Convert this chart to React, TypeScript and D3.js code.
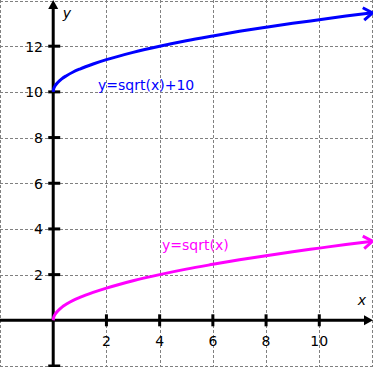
import React, { useEffect, useRef } from 'react';
import * as d3 from 'd3';

// points
const xs = [0, 0.02, 0.08, 0.18, 0.32, 0.5, 0.75, 1, 1.5, 2, 3, 4, 5, 6, 7, 8, 9, 10, 11, 12];
const sqrtY = [0, 0.14, 0.28, 0.42, 0.57, 0.71, 0.87, 1, 1.22, 1.41, 1.73, 2, 2.24, 2.45, 2.65, 2.83, 3, 3.16, 3.32, 3.46];
const sqrtPlus10Y = [10, 10.14, 10.28, 10.42, 10.57, 10.71, 10.87, 11, 11.22, 11.41, 11.73, 12, 12.24, 12.45, 12.65, 12.83, 13, 13.16, 13.32, 13.46];

const xGrid = [-2, 2, 4, 6, 8, 10, 12];
const yGrid = [-2, 2, 4, 6, 8, 10, 12, 14];
const xTickLabels = [2, 4, 6, 8, 10];
const yTickLabels = [2, 4, 6, 8, 10, 12];

const series = [
  { name: 'y=sqrt(x)+10', ys: sqrtPlus10Y, color: '#0000ff', labelX: 98, labelY: 90 },
  { name: 'y=sqrt(x)', ys: sqrtY, color: '#ff00ff', labelX: 162, labelY: 250 },
];

const App = () => {
  const svgRef = useRef<SVGSVGElement>(null);

  useEffect(() => {
    const width = 373;
    const height = 367;

    const x = d3.scaleLinear().domain([-2, 12]).range([0, 372.5]);
    const y = d3.scaleLinear().domain([-2, 14]).range([366, 0.5]);

    const svg = d3.select(svgRef.current)
      .attr('width', width)
      .attr('height', height)
      .attr('style', 'position:absolute;left:0;top:0;background:#fff;font-family:"DejaVu Sans", sans-serif;');
    svg.selectAll('*').remove();

    // dashed grid, every 2 units
    const grid = svg.append('g')
      .attr('stroke', '#808080')
      .attr('stroke-width', 1)
      .attr('stroke-dasharray', '3,2');
    xGrid.forEach(d => {
      const px = Math.min(Math.round(x(d)), width - 1) + 0.5;
      grid.append('line').attr('x1', px).attr('x2', px).attr('y1', 0).attr('y2', height);
    });
    yGrid.forEach(d => {
      const py = Math.min(Math.round(y(d)), height - 1) + 0.5;
      grid.append('line').attr('y1', py).attr('y2', py).attr('x1', 0).attr('x2', width);
    });

    // axes
    const x0 = x(0);
    const y0 = y(0);
    const axes = svg.append('g').attr('stroke', '#000').attr('stroke-width', 3);
    axes.append('line').attr('x1', 0).attr('x2', 366).attr('y1', y0).attr('y2', y0);
    axes.append('line').attr('x1', x0).attr('x2', x0).attr('y1', height).attr('y2', 7);
    svg.append('path')
      .attr('d', `M${373},${y0} L${364},${y0 - 5} L${364},${y0 + 5} Z`)
      .attr('fill', '#000');
    svg.append('path')
      .attr('d', `M${x0},0 L${x0 - 5},9 L${x0 + 5},9 Z`)
      .attr('fill', '#000');

    // tick marks
    xTickLabels.forEach(d => {
      axes.append('line').attr('x1', x(d)).attr('x2', x(d)).attr('y1', y0 - 6).attr('y2', y0 + 6);
    });
    [-2, ...yTickLabels].forEach(d => {
      axes.append('line').attr('y1', y(d)).attr('y2', y(d)).attr('x1', x0 - 5).attr('x2', x0 + 7);
    });

    // tick labels
    svg.append('g')
      .attr('font-size', 14)
      .attr('text-anchor', 'middle')
      .selectAll('text')
      .data(xTickLabels)
      .join('text')
      .attr('x', d => x(d))
      .attr('y', 346)
      .text(d => d);
    svg.append('g')
      .attr('font-size', 14)
      .attr('text-anchor', 'end')
      .selectAll('text')
      .data(yTickLabels)
      .join('text')
      .attr('x', 43)
      .attr('y', d => y(d) + 5.5)
      .text(d => d);

    // axis names
    svg.append('text').attr('x', 362).attr('y', 305).attr('font-size', 14)
      .attr('font-style', 'italic').attr('text-anchor', 'middle').text('x');
    svg.append('text').attr('x', 67).attr('y', 18).attr('font-size', 14)
      .attr('font-style', 'italic').attr('text-anchor', 'middle').text('y');

    // curves with open arrow heads
    const line = d3.line<number>()
      .x((_, i) => x(xs[i]))
      .y(d => y(d))
      .curve(d3.curveMonotoneX);

    series.forEach(s => {
      svg.append('path')
        .attr('d', line(s.ys))
        .attr('fill', 'none')
        .attr('stroke', s.color)
        .attr('stroke-width', 3);

      const n = s.ys.length;
      const ex = x(xs[n - 1]);
      const ey = y(s.ys[n - 1]);
      const px = x(xs[n - 2]);
      const py = y(s.ys[n - 2]);
      const a = Math.atan2(ey - py, ex - px);
      const len = 11;
      const spread = 0.6;
      const p1 = [ex - len * Math.cos(a - spread), ey - len * Math.sin(a - spread)];
      const p2 = [ex - len * Math.cos(a + spread), ey - len * Math.sin(a + spread)];
      svg.append('path')
        .attr('d', `M${p1[0]},${p1[1]} L${ex},${ey} L${p2[0]},${p2[1]}`)
        .attr('fill', 'none')
        .attr('stroke', s.color)
        .attr('stroke-width', 3);

      svg.append('text')
        .attr('x', s.labelX)
        .attr('y', s.labelY)
        .attr('font-size', 14)
        .attr('fill', s.color)
        .text(s.name);
    });
  }, []);

  return <svg ref={svgRef} />;
};

export default App;
